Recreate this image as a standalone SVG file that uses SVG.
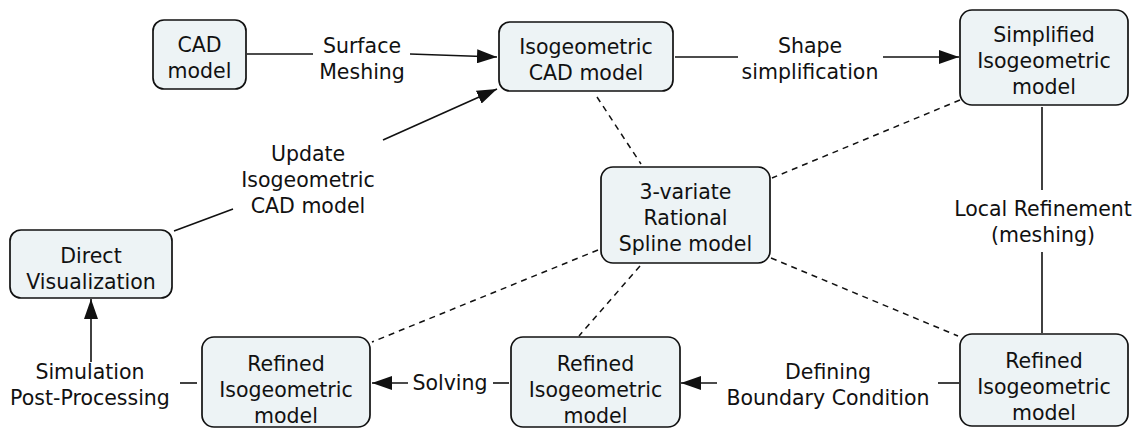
<svg xmlns="http://www.w3.org/2000/svg" width="1138" height="432" viewBox="0 0 1138 432">
<style>
.box{fill:#edf3f5;stroke:#111;stroke-width:1.7}
text{font-family:"DejaVu Sans",Verdana,sans-serif;font-size:20.5px;fill:#111;text-anchor:middle}
.ln{stroke:#111;stroke-width:1.6;fill:none}
.dash{stroke:#111;stroke-width:1.5;fill:none;stroke-dasharray:6 5}
</style>
<defs>
<marker id="arr" viewBox="0 0 20 14" refX="20" refY="7" markerWidth="20" markerHeight="14" markerUnits="userSpaceOnUse" orient="auto">
<path d="M0,0 L20,7 L0,14 Z" fill="#111"/>
</marker>
</defs>
<rect width="1138" height="432" fill="#fff"/>
<g id="connectors">
<line class="ln" x1="247" y1="54" x2="313" y2="54"/>
<line class="ln" x1="410" y1="54" x2="497" y2="57" marker-end="url(#arr)"/>
<text x="362" y="53">Surface</text>
<text x="362" y="79">Meshing</text>
<line class="ln" x1="675" y1="57" x2="738" y2="57"/>
<line class="ln" x1="883" y1="57" x2="959" y2="57" marker-end="url(#arr)"/>
<text x="810" y="53">Shape</text>
<text x="810" y="79">simplification</text>
<line class="ln" x1="174" y1="231" x2="233" y2="209"/>
<line class="ln" x1="383" y1="140" x2="497" y2="89" marker-end="url(#arr)"/>
<text x="308" y="161">Update</text>
<text x="308" y="187">Isogeometric</text>
<text x="308" y="213">CAD model</text>
<line class="ln" x1="197" y1="383" x2="180" y2="383"/>
<line class="ln" x1="91" y1="362" x2="91" y2="299" marker-end="url(#arr)"/>
<text x="90" y="379">Simulation</text>
<text x="90" y="405">Post-Processing</text>
<line class="ln" x1="509" y1="383" x2="493" y2="383"/>
<line class="ln" x1="408" y1="383" x2="372" y2="383" marker-end="url(#arr)"/>
<text x="450" y="390">Solving</text>
<line class="ln" x1="959" y1="383" x2="938" y2="383"/>
<line class="ln" x1="717" y1="383" x2="681" y2="383" marker-end="url(#arr)"/>
<text x="828" y="379">Defining</text>
<text x="828" y="405">Boundary Condition</text>
<line class="ln" x1="1042" y1="107" x2="1042" y2="190"/>
<line class="ln" x1="1042" y1="252" x2="1042" y2="333"/>
<text x="1043" y="216">Local Refinement</text>
<text x="1043" y="242">(meshing)</text>
<line class="dash" x1="597" y1="97" x2="641" y2="164"/>
<line class="dash" x1="960" y1="100" x2="772" y2="178"/>
<line class="dash" x1="598" y1="250" x2="372" y2="342"/>
<line class="dash" x1="640" y1="266" x2="579" y2="336"/>
<line class="dash" x1="771" y1="258" x2="958" y2="336"/>
</g>
<g id="cad"><rect class="box" x="153" y="20" width="93" height="69" rx="11"/><text x="199.5" y="52">CAD</text><text x="199.5" y="78">model</text></g>
<g id="iso"><rect class="box" x="499" y="22" width="174" height="69" rx="11"/><text x="586" y="54">Isogeometric</text><text x="586" y="80">CAD model</text></g>
<g id="simplified"><rect class="box" x="960" y="10" width="168" height="95" rx="12"/><text x="1044" y="42">Simplified</text><text x="1044" y="68">Isogeometric</text><text x="1044" y="94">model</text></g>
<g id="trivariate"><rect class="box" x="601" y="167" width="169" height="96" rx="12"/><text x="685.5" y="199">3-variate</text><text x="685.5" y="225">Rational</text><text x="685.5" y="251">Spline model</text></g>
<g id="direct"><rect class="box" x="10" y="230" width="162" height="68" rx="11"/><text x="91" y="263">Direct</text><text x="91" y="289">Visualization</text></g>
<g id="refined1"><rect class="box" x="202" y="337" width="168" height="90" rx="12"/><text x="286" y="371">Refined</text><text x="286" y="397">Isogeometric</text><text x="286" y="423">model</text></g>
<g id="refined2"><rect class="box" x="511" y="337" width="169" height="90" rx="12"/><text x="595.5" y="371">Refined</text><text x="595.5" y="397">Isogeometric</text><text x="595.5" y="423">model</text></g>
<g id="refined3"><rect class="box" x="960" y="334" width="168" height="92" rx="12"/><text x="1044" y="368">Refined</text><text x="1044" y="394">Isogeometric</text><text x="1044" y="420">model</text></g>
</svg>
